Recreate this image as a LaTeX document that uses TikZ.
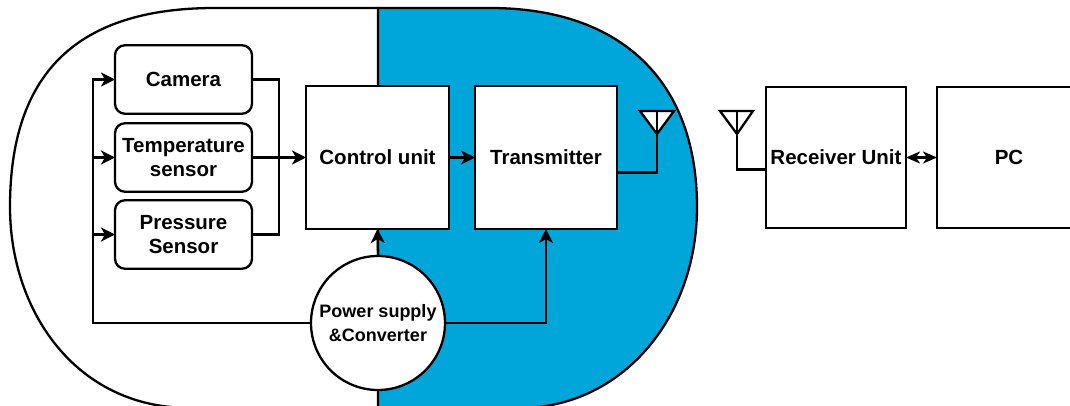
\documentclass[tikz,border=0pt]{standalone}
\usepackage{fontspec}
\setmainfont{Liberation Sans}
\usepackage{tikz}
\usetikzlibrary{arrows.meta}
\definecolor{rxblue}{HTML}{00A6D9}
\tikzset{
	wire/.style={line width=2.3pt,line join=miter},
	tip/.style={-{Stealth[length=14pt,width=14pt,inset=4pt]}},
	sensorbox/.style={draw,line width=2.3pt,rounded corners=10pt,minimum width=137pt,minimum height=68.5pt,align=center,inner sep=0pt,outer sep=0pt,fill=white,font=\fontsize{20.5}{24}\selectfont\bfseries},
	unitbox/.style={draw,line width=2.3pt,minimum width=143pt,minimum height=143pt,align=center,inner sep=0pt,outer sep=0pt,fill=white,font=\fontsize{20.5}{24}\selectfont\bfseries},
	antenna/.style={draw,line width=2.3pt,fill=white,line join=miter}
}
\begin{document}
\begin{tikzpicture}[x=1pt,y=-1pt]
	\useasboundingbox (0,0) rectangle (1070,406);
	% housing
	\fill[rxblue] (378,8) -- (490,8) .. controls (620,8) and (697,80) .. (697,207) .. controls (697,320) and (620,408) .. (520,408) -- (378,408) -- cycle;
	\draw[wire] (378,408) -- (378,8) -- (490,8) .. controls (620,8) and (697,80) .. (697,207) .. controls (697,320) and (620,408) .. (520,408) -- (378,408);
	\draw[wire] (378,8) -- (215,8) .. controls (75,8) and (10,75) .. (10,207) .. controls (10,310) and (75,408) .. (190,408) -- (378,408);
	% blocks
	\node[sensorbox] (camera) at (183.5,79.5) {Camera};
	\node[sensorbox] (tempsensor) at (183.5,157.5) {Temperature\\sensor};
	\node[sensorbox] (pressure) at (183.5,234.5) {Pressure\\Sensor};
	\node[unitbox] (control) at (377.5,157.5) {Control unit};
	\node[unitbox,minimum width=142pt] (transmitter) at (546,157.5) {Transmitter};
	\node[unitbox,minimum width=140pt,minimum height=141pt] (receiver) at (836,157.5) {Receiver Unit};
	\node[unitbox,minimum width=144pt,minimum height=141pt] (pc) at (1009,157.5) {PC};
	\node[draw,circle,line width=2.3pt,minimum size=134pt,inner sep=0pt,outer sep=0pt,fill=white,align=center,font=\fontsize{18}{24}\selectfont\bfseries] (psu) at (378,323) {Power supply\\\&Converter};
	% antennas
	\draw[antenna] (640,111) -- (674,111) -- (657,134) -- cycle;
	\draw[antenna] (720,111) -- (753,111) -- (737,134) -- cycle;
	\coordinate (txant) at (657,111);
	\coordinate (rxant) at (737,111);
	% connections
	\coordinate (bus) at (93,323);
	\coordinate (merge) at (279,157.5);
	\foreach \s in {camera,tempsensor,pressure}{
		\draw[wire,tip] (psu.west) -- (bus) |- (\s.west);
	}
	\draw[wire] (camera.east) -| (merge);
	\draw[wire] (pressure.east) -| (merge);
	\draw[wire,tip] (tempsensor.east) -- (control.west);
	\draw[wire,tip] (control.east) -- (transmitter.west);
	\draw[wire,tip] (psu.north) -- (control.south);
	\draw[wire,tip] (psu.east) -| (transmitter.south);
	\draw[wire] (transmitter.east) -- ++(0,15) -| (txant);
	\draw[wire] (receiver.west) ++(0,34) -- ++(0,-22) -| (rxant);
	\draw[wire,{Stealth[length=14pt,width=12pt,inset=4pt]}-{Stealth[length=14pt,width=12pt,inset=4pt]}] (receiver.east) -- (pc.west);
\end{tikzpicture}
\end{document}
